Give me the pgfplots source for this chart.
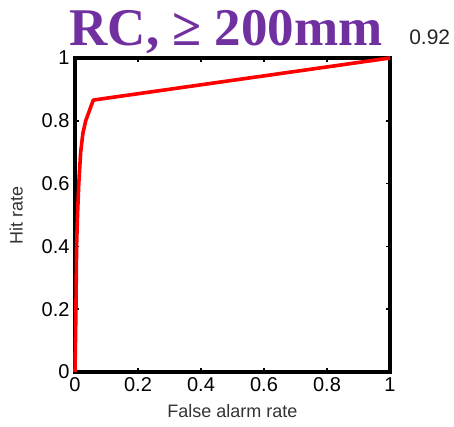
\documentclass[border=0pt]{standalone}
\usepackage{pgfplots}
\pgfplotsset{compat=1.18}
\usepackage{fontspec}
\setmainfont{Liberation Sans}
\newfontfamily\titlefont{Liberation Serif}
\definecolor{titlepurple}{RGB}{112,48,160}

\begin{document}
\begin{tikzpicture}[x=1pt,y=1pt]
\useasboundingbox (-75,-55) rectangle (379,372);
\begin{axis}[
  at={(0,0)}, anchor=south west,
  scale only axis, width=315pt, height=314pt,
  xmin=0, xmax=1, ymin=0, ymax=1,
  xtick={0,0.2,...,1}, ytick={0,0.2,...,1},
  xticklabels={0,0.2,0.4,0.6,0.8,1},
  yticklabels={0,0.2,0.4,0.6,0.8,1},
  tick align=inside, major tick length=4pt,
  tick style={black, line width=1.5pt},
  tick label style={font=\fontsize{20}{22}\selectfont},
  xticklabel style={yshift=-2pt},
  yticklabel style={xshift=-2pt},
  label style={font=\fontsize{18}{20}\selectfont, text=black!80},
  xlabel={False alarm rate}, ylabel={Hit rate},
  xlabel style={yshift=-6pt},
  ylabel style={yshift=12pt},
  clip=false]
\draw[black, line width=3.6pt] (rel axis cs:0,0) rectangle (rel axis cs:1,1);
\addplot[red, line width=3.6pt, line join=round] coordinates {
  (0,0) (0.003,0.2) (0.005,0.4) (0.008,0.5) (0.012,0.6)
  (0.018,0.7) (0.025,0.76) (0.034,0.8) (0.058,0.866) (1,1)};
\node[font=\titlefont\bfseries\fontsize{53}{56}\selectfont, text=titlepurple,
  anchor=base] at (rel axis cs:0.48,1.04) {RC, ≥ 200mm};
\node[font=\fontsize{21}{23}\selectfont, text=black!85, anchor=west]
  at (rel axis cs:1.05,1.065) {0.92};
\end{axis}
\end{tikzpicture}
\end{document}
